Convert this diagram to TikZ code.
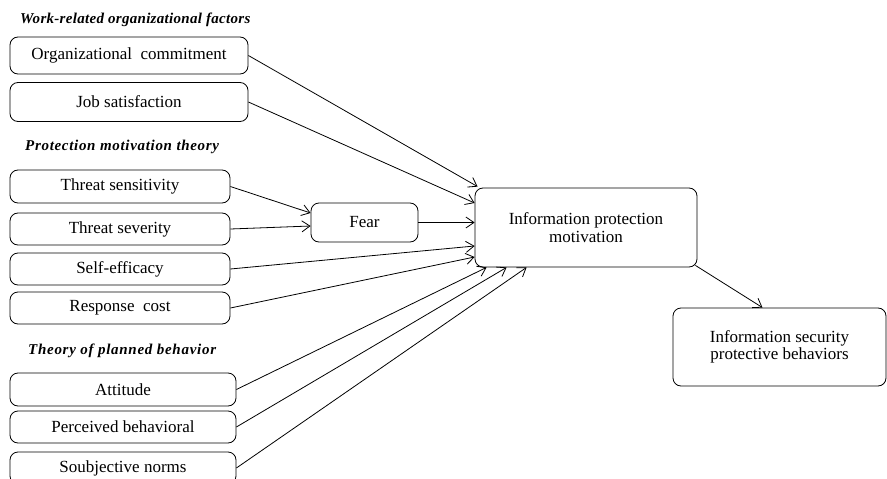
\documentclass[tikz,border=0pt]{standalone}
\usepackage{fontspec}
\setmainfont{Liberation Serif}
\usetikzlibrary{arrows.meta,calc}
\begin{document}
\begin{tikzpicture}[x=1pt,y=-1pt,
  box/.style={draw, line width=0.8pt, rounded corners=8pt, inner sep=0pt, align=center,
    font=\fontsize{17}{17.5}\selectfont},
  head/.style={anchor=west, inner sep=0pt, font=\fontsize{15}{16}\selectfont\bfseries\itshape},
  arr/.style={line width=0.8pt, -{Straight Barb[length=8pt,width=11pt]}}]
\useasboundingbox (0,0) rectangle (887,479);
\node[head] (wr) at (20,20) {\addfontfeature{LetterSpace=2}Work-related organizational factors};
\node[head] (pmt) at (25,147) {\addfontfeature{LetterSpace=4.6}Protection motivation theory};
\node[head] (tpb) at (28,351) {\addfontfeature{LetterSpace=4.8}Theory of planned behavior};

\node[box, minimum width=238pt, minimum height=37pt] (oc) at (129,55.5) {Organizational\ \ commitment};
\node[box, minimum width=238pt, minimum height=39pt] (js) at (129,102) {Job satisfaction};
\node[box, minimum width=220pt, minimum height=33pt] (ts) at (120,186.5) {Threat sensitivity};
\node[box, minimum width=220pt, minimum height=32pt] (tsev) at (120,229) {Threat severity};
\node[box, minimum width=220pt, minimum height=32pt] (se) at (120,269) {Self-efficacy};
\node[box, minimum width=220pt, minimum height=32pt] (rc) at (120,308) {Response\ \ cost};
\node[box, minimum width=226pt, minimum height=33pt] (att) at (123,389.5) {Attitude};
\node[box, minimum width=226pt, minimum height=32pt] (pb) at (123,427) {Perceived behavioral};
\node[box, minimum width=226pt, minimum height=32pt] (sn) at (123,468) {Soubjective norms};
\node[box, minimum width=107pt, minimum height=39pt] (fear) at (364.5,222.5) {Fear};
\node[box, minimum width=222pt, minimum height=79pt] (ipm) at (586,227.5) {Information protection\\motivation};
\node[box, minimum width=213pt, minimum height=78pt] (isb) at (779.5,347) {Information security\\protective behaviors};

\draw[arr] (oc.east) -- ($(ipm.north west)+(3,-1)$);
\draw[arr] (js.east) -- ($(ipm.west)+(0,-24.5)$);
\draw[arr] (ts.east) -- ($(fear.west)+(0,-9.5)$);
\draw[arr] (tsev.east) -- ($(fear.west)+(0,3.5)$);
\draw[arr] (fear.east) -- (fear.east -| ipm.west);
\draw[arr] (se.east) -- ($(ipm.west)+(0,18.5)$);
\draw[arr] (rc.east) -- ($(ipm.west)+(0,29.5)$);
\draw[arr] (att.east) -- ($(ipm.south west)+(12,0)$);
\draw[arr] (pb.east) -- ($(ipm.south west)+(32,0)$);
\draw[arr] (sn.east) -- ($(ipm.south west)+(52,0)$);
\draw[arr] ($(ipm.south east)+(-2,-2)$) -- ($(isb.north)+(-17,0)$);
\end{tikzpicture}
\end{document}
